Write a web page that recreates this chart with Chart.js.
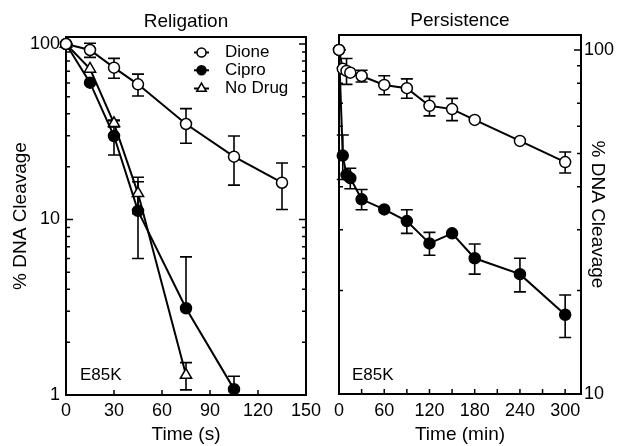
<!DOCTYPE html>
<html>
<head>
<meta charset="utf-8">
<script src="https://cdn.jsdelivr.net/npm/chart.js@4.4.0/dist/chart.umd.min.js"></script>
<style>
  html, body { margin: 0; padding: 0; background: #fff; overflow: hidden; }
  #wrap { position: relative; width: 617px; height: 446px; }
  canvas { position: absolute; top: 0; }
  #religation { left: 0; }
  #persistence { left: 300px; }
</style>
</head>
<body>
<div id="wrap">
  <canvas id="religation" width="330" height="446"></canvas>
  <canvas id="persistence" width="317" height="446"></canvas>
</div>
<script>
const FONT = '"Liberation Sans", Arial, Helvetica, sans-serif';
Chart.defaults.font.family = FONT;
Chart.defaults.color = "#000";

// Religation, time in seconds
const relTimeDione = [0, 15, 30, 45, 75, 105, 135];
const relDione = [100, 92.4, 73.3, 58.9, 35.0, 22.8, 16.2];
const relDioneErr = [0, 8.5, 9.5, 8.4, 7.8, 7.1, 4.8];

const relTimeCipro = [0, 15, 30, 45, 75, 105];
const relCipro = [100, 60.2, 29.9, 11.2, 3.12, 1.08];
const relCiproErr = [0, 0, 6.6, 5.2, 3.0, 0.2];

const relTimeNoDrug = [0, 15, 30, 45, 75];
const relNoDrug = [100, 72.1, 35.3, 14.1, 1.30];
const relNoDrugErr = [0, 0, 1.6, 3.3, 0.23];

// Persistence, time in minutes
const perTime = [0, 5, 10, 15, 30, 60, 90, 120, 150, 180, 240, 300];
const perDione = [100, 88.1, 86.9, 85.9, 84.0, 79.1, 77.4, 68.8, 67.3, 62.6, 54.4, 47.2];
const perDioneErr = [0, 0, 7.5, 0, 3.3, 5, 5, 4.5, 5, 0, 0, 3.3];
const perCipro = [100, 49.3, 43.3, 42.4, 36.8, 34.4, 31.8, 27.4, 29.3, 24.8, 22.3, 17.0];
const perCiproErr = [0, 7.3, 0, 2.9, 2.5, 0, 2.5, 2.1, 0, 2.5, 2.5, 2.4];

// tick labels and tick marks
const relXLabels = [0, 30, 60, 90, 120, 150];
const relXMarks = [30, 60, 90, 120];
const perXLabels = [0, 60, 120, 180, 240, 300];
const perXMarks = [30, 60, 90, 120, 150, 180, 210, 240, 270, 300];
const yLabels = [1, 10, 100];
const yMarksRel = [2, 3, 4, 5, 6, 7, 8, 9, 10, 20, 30, 40, 50, 60, 70, 80, 90, 100];
const yMarksPer = [20, 30, 40, 50, 60, 70, 80, 90, 100];

const toPoints = (xs, ys) => xs.map((x, i) => ({ x, y: ys[i] }));

function series(label, xs, ys, errs, style) {
    return {
        label,
        data: toPoints(xs, ys),
        errors: errs,
        borderColor: "#000",
        borderWidth: 2,
        pointStyle: style.shape,
        pointRadius: style.radius,
        pointBackgroundColor: style.fill,
        pointBorderColor: "#000",
        pointBorderWidth: 1.5,
        tension: 0,
        clip: false
    };
}

const openCircle = { shape: "circle", radius: 5.5, fill: "#fff" };
const filledCircle = { shape: "circle", radius: 5.5, fill: "#000" };
const openTriangle = { shape: "triangle", radius: 6.5, fill: "#fff" };

// frame box with inward ticks
const frameTicks = {
    id: "frameTicks",
    beforeDatasetsDraw(chart, args, opts) {
        const { ctx, chartArea: a, scales: { x, y } } = chart;
        ctx.save();
        ctx.strokeStyle = "#000";
        ctx.lineWidth = 2;
        ctx.strokeRect(a.left, a.top, a.right - a.left, a.bottom - a.top);
        ctx.lineWidth = 1.5;
        ctx.beginPath();
        opts.xMarks.forEach(v => {
            const px = x.getPixelForValue(v);
            ctx.moveTo(px, a.bottom);
            ctx.lineTo(px, a.bottom - 5);
        });
        opts.yMarks.forEach(v => {
            const py = y.getPixelForValue(v);
            const len = yLabels.includes(v) ? 7 : 4;
            ctx.moveTo(a.left, py);
            ctx.lineTo(a.left + len, py);
            ctx.moveTo(a.right, py);
            ctx.lineTo(a.right - len, py);
        });
        ctx.stroke();
        ctx.restore();
    }
};

const errorBars = {
    id: "errorBars",
    beforeDatasetsDraw(chart) {
        const { ctx, chartArea: a, scales: { x, y } } = chart;
        ctx.save();
        ctx.strokeStyle = "#000";
        ctx.lineWidth = 1.6;
        chart.data.datasets.forEach(ds => {
            (ds.errors || []).forEach((e, i) => {
                if (!e) return;
                const pt = ds.data[i];
                const px = x.getPixelForValue(pt.x);
                const hi = y.getPixelForValue(pt.y + e);
                const loVal = pt.y - e;
                const hasLow = loVal >= y.min;
                const lo = hasLow ? y.getPixelForValue(loVal) : y.getPixelForValue(pt.y);
                ctx.beginPath();
                ctx.moveTo(px, Math.max(hi, a.top));
                ctx.lineTo(px, lo);
                if (hi >= a.top) { ctx.moveTo(px - 6, hi); ctx.lineTo(px + 6, hi); }
                if (hasLow) { ctx.moveTo(px - 6, lo); ctx.lineTo(px + 6, lo); }
                ctx.stroke();
            });
        });
        ctx.restore();
    }
};

const insideLegend = {
    id: "insideLegend",
    afterDatasetsDraw(chart, args, opts) {
        if (!opts.rows) return;
        const ctx = chart.ctx;
        ctx.save();
        ctx.font = "17px " + FONT;
        ctx.textBaseline = "middle";
        chart.data.datasets.forEach((ds, i) => {
            const y = opts.rows[i];
            ctx.strokeStyle = "#000";
            ctx.lineWidth = 2;
            ctx.beginPath();
            ctx.moveTo(opts.x, y);
            ctx.lineTo(opts.x + 15, y);
            ctx.stroke();
            ctx.fillStyle = ds.pointBackgroundColor;
            ctx.lineWidth = 1.5;
            Chart.helpers.drawPoint(ctx, { pointStyle: ds.pointStyle, radius: ds.pointStyle === "triangle" ? 5.5 : 4.5, borderWidth: 1.5, rotation: 0 }, opts.x + 7.5, y);
            ctx.fillStyle = "#000";
            ctx.fillText(ds.label, opts.textX, y);
        });
        ctx.restore();
    }
};

const cornerTag = {
    id: "cornerTag",
    afterDraw(chart, args, opts) {
        const ctx = chart.ctx;
        ctx.save();
        ctx.font = "17px " + FONT;
        ctx.fillStyle = "#000";
        ctx.textBaseline = "middle";
        ctx.fillText(opts.text, chart.chartArea.left + opts.dx, opts.y);
        ctx.restore();
    }
};

function yAxis(max, position, width, titlePad, labelPad) {
    return {
        type: "logarithmic",
        position,
        min: position === "left" ? 1 : 10,
        max,
        afterBuildTicks: s => { s.ticks = yLabels.filter(v => v >= s.min).map(v => ({ value: v })); },
        afterFit: s => { s.width = width; },
        grid: { display: false, drawTicks: false },
        border: { display: false },
        ticks: { font: { size: 18 }, padding: labelPad, autoSkip: false, callback: v => String(v) },
        title: { display: true, text: "% DNA Cleavage", font: { size: 19 }, padding: { top: titlePad, bottom: 0 } }
    };
}

function xAxis(max, labels, text, height, labelPad) {
    return {
        type: "linear",
        min: 0,
        max,
        afterBuildTicks: s => { s.ticks = labels.map(v => ({ value: v })); },
        afterFit: s => { s.height = height; },
        grid: { display: false, drawTicks: false },
        border: { display: false },
        ticks: { font: { size: 18 }, padding: labelPad, autoSkip: false, maxRotation: 0 },
        title: { display: true, text, font: { size: 19 }, padding: { top: 0, bottom: 0 } }
    };
}

new Chart(document.getElementById("religation"), {
    type: "line",
    data: {
        datasets: [
            series("Dione", relTimeDione, relDione, relDioneErr, openCircle),
            series("Cipro", relTimeCipro, relCipro, relCiproErr, filledCircle),
            series("No Drug", relTimeNoDrug, relNoDrug, relNoDrugErr, openTriangle)
        ]
    },
    options: {
        responsive: false,
        animation: false,
        layout: { padding: { left: 0, right: 24, top: 0, bottom: 0 } },
        plugins: {
            legend: { display: false },
            tooltip: { enabled: false },
            title: { display: true, text: "Religation", fullSize: false, font: { size: 19, weight: "normal" }, padding: { top: 10, bottom: 4.2 } },
            frameTicks: { xMarks: relXMarks, yMarks: yMarksRel },
            insideLegend: { x: 194, textX: 225, rows: [52.5, 70.3, 88.5] },
            cornerTag: { text: "E85K", dx: 14, y: 375 }
        },
        scales: {
            x: xAxis(150, relXLabels, "Time (s)", 51, 5),
            y: yAxis(109.6, "left", 66, 9, 6)
        }
    },
    plugins: [frameTicks, errorBars, insideLegend, cornerTag]
});

new Chart(document.getElementById("persistence"), {
    type: "line",
    data: {
        datasets: [
            series("Dione", perTime, perDione, perDioneErr, openCircle),
            series("Cipro", perTime, perCipro, perCiproErr, filledCircle)
        ]
    },
    options: {
        responsive: false,
        animation: false,
        layout: { padding: { left: 39, right: 0, top: 0, bottom: 0 } },
        plugins: {
            legend: { display: false },
            tooltip: { enabled: false },
            title: { display: true, text: "Persistence", fullSize: false, font: { size: 19, weight: "normal" }, padding: { top: 9, bottom: 3.2 } },
            frameTicks: { xMarks: perXMarks, yMarks: yMarksPer },
            insideLegend: {},
            cornerTag: { text: "E85K", dx: 13, y: 375.5 }
        },
        scales: {
            x: xAxis(321, perXLabels, "Time (min)", 52, 6),
            y: yAxis(110.5, "right", 36, 8, 3)
        }
    },
    plugins: [frameTicks, errorBars, insideLegend, cornerTag]
});
</script>
</body>
</html>
